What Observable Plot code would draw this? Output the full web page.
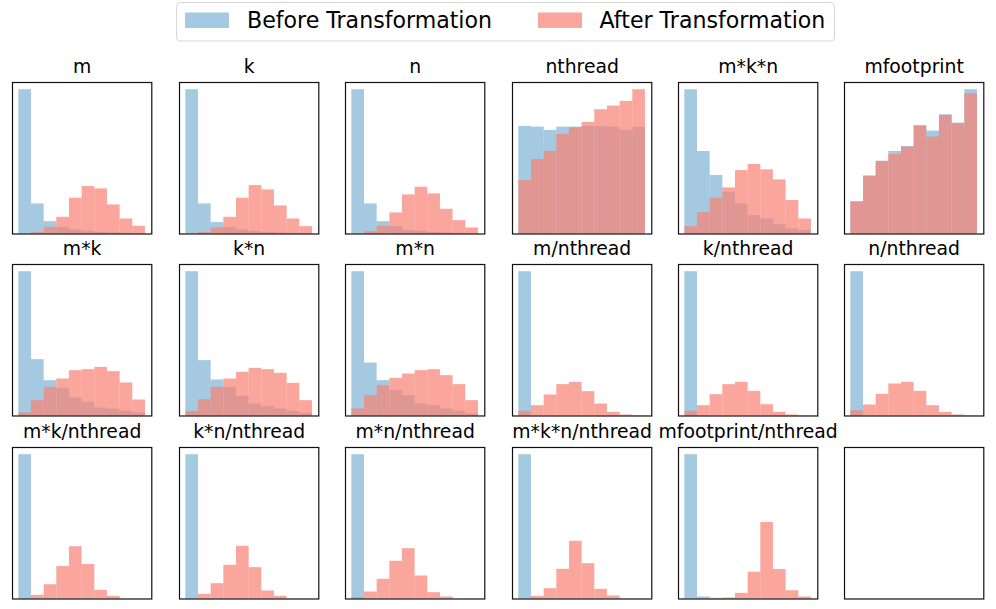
<!DOCTYPE html>
<html>
<head>
<meta charset="utf-8">
<script src="https://cdn.jsdelivr.net/npm/d3@7"></script>
<script src="https://cdn.jsdelivr.net/npm/@observablehq/plot@0.6"></script>
<style>
  html, body { margin: 0; padding: 0; background: white; }
  #root { position: relative; width: 996px; height: 609px; overflow: hidden; font-family: "DejaVu Sans", sans-serif; }
  #root .panel { position: absolute; }
</style>
</head>
<body>
<div id="root"></div>
<script>
// ---- data (histogram bin heights, 10 shared bins per panel) ----
const panelTitles = ["m", "k", "n", "nthread", "m*k*n", "mfootprint",
  "m*k", "k*n", "m*n", "m/nthread", "k/nthread", "n/nthread",
  "m*k/nthread", "k*n/nthread", "m*n/nthread", "m*k*n/nthread", "mfootprint/nthread"];

const beforeCounts = [
  [432, 90, 37, 20, 12, 8, 5, 3, 2, 1],
  [432, 90, 34, 20, 12, 7, 4, 3, 2, 1],
  [432, 90, 37, 23, 10, 8, 5, 3, 2, 1],
  [322, 320, 310, 320, 320, 322, 322, 320, 310, 320],
  [432, 247, 175, 125, 90, 55, 45, 28, 15, 10],
  [95, 172, 218, 247, 262, 324, 308, 357, 332, 432],
  [433, 169, 106, 83, 54, 41, 24, 21, 14, 9],
  [433, 166, 108, 86, 59, 36, 28, 21, 14, 8],
  [433, 159, 106, 76, 61, 36, 31, 21, 14, 6],
  [433, 0, 0, 0, 0, 0, 0, 0, 0, 0],
  [433, 0, 0, 0, 0, 0, 0, 0, 0, 0],
  [433, 0, 0, 0, 0, 0, 0, 0, 0, 0],
  [436, 0, 0, 0, 0, 0, 0, 0, 0, 0],
  [433, 0, 0, 0, 0, 0, 0, 0, 0, 0],
  [433, 0, 0, 0, 0, 0, 0, 0, 0, 0],
  [433, 0, 0, 0, 0, 0, 0, 0, 0, 0],
  [436, 6, 0, 0, 0, 0, 0, 0, 0, 0]
];

const afterCounts = [
  [0, 4, 20, 50, 107, 142, 135, 87, 45, 23],
  [0, 4, 18, 50, 107, 145, 132, 84, 45, 22],
  [0, 7, 23, 63, 117, 140, 120, 74, 40, 18],
  [160, 223, 247, 298, 318, 334, 372, 383, 397, 432],
  [22, 64, 107, 138, 190, 208, 192, 162, 100, 45],
  [97, 174, 217, 238, 260, 324, 290, 355, 330, 420],
  [9, 46, 86, 111, 136, 139, 146, 133, 99, 48],
  [13, 49, 86, 111, 131, 143, 139, 128, 98, 46],
  [21, 61, 91, 113, 126, 136, 139, 121, 94, 46],
  [14, 31, 63, 94, 101, 73, 36, 11, 3, 1],
  [14, 31, 64, 94, 101, 74, 34, 11, 3, 1],
  [16, 33, 65, 96, 101, 74, 31, 11, 3, 1],
  [0, 11, 43, 98, 158, 104, 26, 8, 0, 0],
  [0, 14, 46, 101, 158, 94, 24, 8, 0, 0],
  [4, 21, 59, 113, 151, 69, 19, 6, 0, 0],
  [0, 8, 31, 89, 173, 106, 29, 9, 0, 0],
  [0, 0, 2, 3, 17, 81, 231, 89, 25, 6]
];

const seriesNames = ["Before Transformation", "After Transformation"];

// ---- styling / layout ----
const blueFill = "#1f77b4", blueOpacity = 0.4;
const redFill = "salmon", redOpacity = 0.7;
const colLeft = [12.3, 178.7, 345.1, 511.5, 677.9, 844.3];
const rowTop = [82, 264.2, 446.5];
const W = 139.3, H = 151.5;
const M = 30, MT = 34, MB = 2;

const root = document.getElementById("root");

function bins(counts) {
  return counts.map((v, j) => ({x1: j, x2: j + 1, y: v})).filter(d => d.y > 0);
}

for (let i = 0; i < 18; i++) {
  const col = i % 6, row = Math.floor(i / 6);
  const has = i < panelTitles.length;
  const b = has ? bins(beforeCounts[i]) : [];
  const a = has ? bins(afterCounts[i]) : [];
  const ymax = has ? d3.max([...beforeCounts[i], ...afterCounts[i]]) : 1;
  const marks = [];
  if (has) {
    marks.push(Plot.rect(b, {x1: "x1", x2: "x2", y1: 0, y2: "y", fill: blueFill, fillOpacity: blueOpacity, inset: 0}));
    marks.push(Plot.rect(a, {x1: "x1", x2: "x2", y1: 0, y2: "y", fill: redFill, fillOpacity: redOpacity, inset: 0}));
    marks.push(Plot.text([panelTitles[i]], {frameAnchor: "top", dy: -9, lineAnchor: "bottom", fontSize: 18.8, fill: "black", text: d => d}));
  }
  marks.push(Plot.frame({stroke: "#111", strokeWidth: 1.2}));
  const chart = Plot.plot({
    width: W + 2 * M,
    height: H + MT + MB,
    marginLeft: M, marginRight: M, marginTop: MT, marginBottom: MB,
    x: {domain: [-0.5, 10.5], axis: null},
    y: {domain: [0, ymax * 1.05], axis: null},
    style: {background: "transparent", overflow: "visible", fontFamily: "DejaVu Sans"},
    marks
  });
  chart.classList.add("panel");
  chart.style.left = (colLeft[col] - M) + "px";
  chart.style.top = (rowTop[row] - MT) + "px";
  root.appendChild(chart);
}

// ---- legend ----
const leg = d3.create("svg")
  .attr("width", 996).attr("height", 48)
  .style("position", "absolute").style("left", "0px").style("top", "0px")
  .style("font-family", "DejaVu Sans");
leg.append("rect").attr("x", 176.5).attr("y", 2.5).attr("width", 658).attr("height", 38.5)
  .attr("rx", 4).attr("fill", "white").attr("fill-opacity", 0.8).attr("stroke", "#d6d6d6").attr("stroke-width", 1);
const items = [
  {name: seriesNames[0], fill: blueFill, op: blueOpacity, sx: 185, tx: 247},
  {name: seriesNames[1], fill: redFill, op: redOpacity, sx: 538, tx: 599.5}
];
for (const it of items) {
  leg.append("rect").attr("x", it.sx).attr("y", 12.5).attr("width", 44).attr("height", 15.5)
    .attr("fill", it.fill).attr("fill-opacity", it.op);
  leg.append("text").attr("x", it.tx).attr("y", 28).attr("font-size", 22.1).attr("fill", "black").text(it.name);
}
root.appendChild(leg.node());
</script>
</body>
</html>
